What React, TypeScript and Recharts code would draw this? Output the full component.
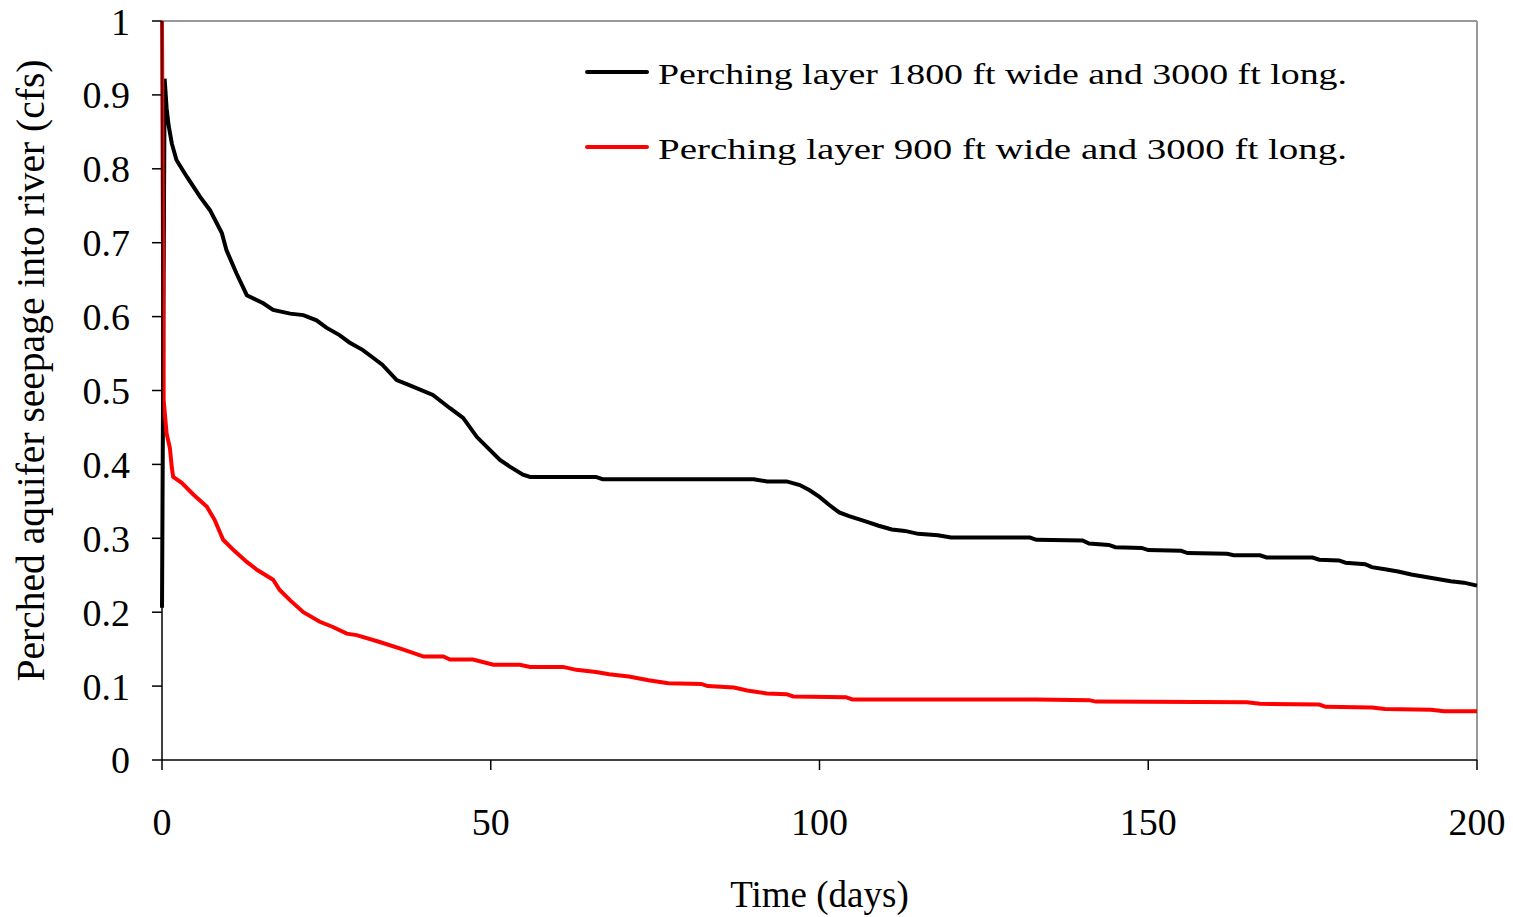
import { LineChart, Line, XAxis, YAxis, ReferenceLine, Legend, Label } from 'recharts';

// Perching layer 1800 ft wide (black)
const wideDays = [
  0, 0.4, 0.7, 1, 1.5, 2.2, 3.8, 5.8, 7.3, 9.1,
  9.8, 11.3, 12.9, 15.4, 16.9, 19.5, 21.5, 23.5, 25, 27,
  28.5, 30.5, 32, 33.5, 35.7, 37.7, 41.2, 43.8, 45.8, 47.9,
  51.4, 52.9, 54.9, 56, 66, 67, 90, 92, 95, 97,
  98.5, 100, 101.5, 103, 104.5, 107, 109, 111, 113, 115,
  118, 120, 132, 133, 140, 141, 144, 145, 149, 150,
  155, 156, 162, 163, 167, 168, 175, 176, 179, 180,
  183, 184, 186, 188, 190, 192, 194, 196, 198, 200,
];
const wideFlow = [
  0.206, 0.922, 0.882, 0.859, 0.834, 0.812, 0.789, 0.762, 0.744, 0.713,
  0.69, 0.659, 0.629, 0.618, 0.609, 0.604, 0.602, 0.595, 0.585, 0.575,
  0.565, 0.555, 0.545, 0.535, 0.514, 0.507, 0.494, 0.476, 0.463, 0.437,
  0.406, 0.397, 0.386, 0.383, 0.383, 0.38, 0.38, 0.377, 0.377, 0.372,
  0.365, 0.356, 0.345, 0.335, 0.33, 0.323, 0.317, 0.312, 0.31, 0.306,
  0.304, 0.301, 0.301, 0.298, 0.297, 0.293, 0.291, 0.288, 0.287, 0.284,
  0.283, 0.28, 0.279, 0.277, 0.277, 0.274, 0.274, 0.271, 0.27, 0.267,
  0.265, 0.261, 0.258, 0.255, 0.251, 0.248, 0.245, 0.242, 0.24, 0.236,
];

// Perching layer 900 ft wide (red)
const narrowDays = [
  0, 0.25, 0.7, 1.2, 1.5, 1.7, 3, 4.8, 6.8, 8,
  9.3, 11, 12.9, 14.5, 16.9, 17.9, 19.5, 21.5, 24, 26,
  28.1, 29.6, 33, 36.5, 39.8, 42.8, 43.8, 47.3, 50.4, 54.4,
  56, 61, 63, 66, 68, 71, 74, 77, 82, 83,
  87, 89, 92, 95, 96, 104, 105, 133, 141, 142,
  165, 167, 176, 177, 184, 186, 193, 195, 200,
];
const narrowFlow = [
  1.0, 0.487, 0.442, 0.422, 0.395, 0.383, 0.375, 0.359, 0.343, 0.325,
  0.298, 0.283, 0.268, 0.257, 0.244, 0.23, 0.216, 0.2, 0.187, 0.18,
  0.171, 0.169, 0.16, 0.15, 0.14, 0.14, 0.136, 0.136, 0.129, 0.129,
  0.126, 0.126, 0.122, 0.119, 0.116, 0.113, 0.108, 0.104, 0.103, 0.1,
  0.098, 0.094, 0.09, 0.089, 0.086, 0.085, 0.082, 0.082, 0.081, 0.079,
  0.078, 0.076, 0.075, 0.072, 0.071, 0.069, 0.068, 0.066, 0.066,
];

const xTicks = [0, 50, 100, 150, 200];
const yTicks = [0, 0.1, 0.2, 0.3, 0.4, 0.5, 0.6, 0.7, 0.8, 0.9, 1];
const yTickLabels = ['0', '0.1', '0.2', '0.3', '0.4', '0.5', '0.6', '0.7', '0.8', '0.9', '1'];

const wideData = wideDays.map((day, i) => ({ day, flow: wideFlow[i] }));
const narrowData = narrowDays.map((day, i) => ({ day, flow: narrowFlow[i] }));

const FONT = "'Liberation Serif', 'Times New Roman', serif";

const renderLegend = (props: any) => {
  const { payload } = props;
  return (
    <svg width={780} height={130} style={{ display: 'block' }}>
      {(payload || []).map((entry: any, i: number) => (
        <g key={entry.value} transform={`translate(0, ${i * 75})`}>
          <line x1={2} x2={62} y1={20} y2={20} stroke={entry.color} strokeWidth={4} strokeLinecap="round" />
          <text
            x={73}
            y={32}
            fontSize={29}
            fontFamily={FONT}
            fill="#000"
            textLength={689}
            lengthAdjust="spacingAndGlyphs"
          >
            {entry.value}
          </text>
        </g>
      ))}
    </svg>
  );
};

export default function App() {
  return (
    <div style={{ position: 'absolute', left: 0, top: 0, width: 1513, height: 917, background: '#fff' }}>
      <LineChart width={1513} height={917} margin={{ top: 21, right: 36, bottom: 0, left: 0 }}>
        <XAxis
          type="number"
          dataKey="day"
          domain={[0, 200]}
          ticks={xTicks}
          height={157}
          tickSize={10}
          tickMargin={38}
          axisLine={{ stroke: '#000', strokeWidth: 1.5 }}
          tickLine={{ stroke: '#000', strokeWidth: 1.5 }}
          tick={{ fill: '#000', fontSize: 38, fontFamily: FONT }}
        >
          <Label
            content={(p: any) => {
              const vb = p.viewBox;
              return (
                <text x={vb.x + vb.width / 2} y={vb.y + 147} textAnchor="middle" fontSize={37} fontFamily={FONT} fill="#000">
                  Time (days)
                </text>
              );
            }}
          />
        </XAxis>
        <YAxis
          type="number"
          domain={[0, 1]}
          ticks={yTicks}
          width={162}
          allowDataOverflow
          tickSize={10}
          tickMargin={22}
          tickFormatter={(v: number) => yTickLabels[yTicks.indexOf(v)] ?? String(v)}
          axisLine={{ stroke: '#000', strokeWidth: 1.5 }}
          tickLine={{ stroke: '#000', strokeWidth: 1.5 }}
          tick={{ fill: '#000', fontSize: 38, fontFamily: FONT }}
        >
          <Label
            content={(p: any) => {
              const vb = p.viewBox;
              const cx = vb.x + 44;
              const cy = vb.y + vb.height / 2 - 20;
              return (
                <text
                  x={cx}
                  y={cy}
                  transform={`rotate(-90 ${cx} ${cy})`}
                  textAnchor="middle"
                  fontSize={39.5}
                  fontFamily={FONT}
                  fill="#000"
                >
                  Perched aquifer seepage into river (cfs)
                </text>
              );
            }}
          />
        </YAxis>
        <ReferenceLine y={1} stroke="#999" strokeWidth={2} />
        <ReferenceLine x={200} stroke="#999" strokeWidth={2} />
        <Legend
          layout="horizontal"
          verticalAlign="middle"
          align="center"
          content={renderLegend}
          wrapperStyle={{ left: 585, top: 52, width: 780, height: 130 }}
        />
        <Line
          data={wideData}
          dataKey="flow"
          name="Perching layer 1800 ft wide and 3000 ft long."
          type="linear"
          stroke="#000000"
          strokeWidth={4}
          dot={false}
          activeDot={false}
          isAnimationActive={false}
        />
        <Line
          data={narrowData}
          dataKey="flow"
          name="Perching layer 900 ft wide and 3000 ft long."
          type="linear"
          stroke="#ff0000"
          strokeWidth={4}
          dot={false}
          activeDot={false}
          isAnimationActive={false}
        />
      </LineChart>
    </div>
  );
}
